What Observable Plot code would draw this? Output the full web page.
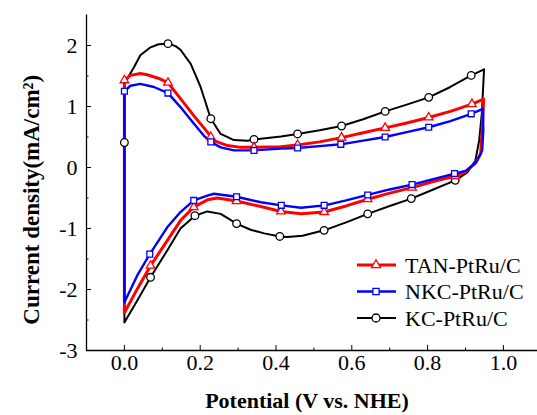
<!DOCTYPE html>
<html>
<head>
<meta charset="utf-8">
<script src="https://cdn.jsdelivr.net/npm/d3@7"></script>
<script src="https://cdn.jsdelivr.net/npm/@observablehq/plot@0.6"></script>
<style>
  html, body { margin: 0; padding: 0; background: #fff; }
  #chart { width: 537px; height: 415px; overflow: hidden; }
</style>
</head>
<body>
<div id="chart"></div>
<script>
// ---- Data (potential V vs NHE, current density mA/cm²), loops traced in scan order ----
const seriesNames = ["TAN-PtRu/C", "NKC-PtRu/C", "KC-PtRu/C"];
const seriesColors = ["#ff0000", "#0000ff", "#000000"];

const kcV = [0,0,0.007,0.025,0.042,0.069,0.09,0.115,0.135,0.148,0.175,0.201,0.228,0.254,0.289,0.325,0.342,0.413,0.457,0.515,0.573,0.63,0.688,0.745,0.803,0.86,0.915,0.949,0.943,0.936,0.926,0.905,0.873,0.815,0.757,0.70,0.642,0.585,0.527,0.47,0.43,0.410,0.369,0.333,0.296,0.254,0.219,0.186,0.148,0.113,0.069,0.034,0];
const kcJ = [-2.54,1.43,1.45,1.64,1.84,1.97,2.02,2.03,1.99,1.93,1.70,1.32,0.80,0.55,0.45,0.44,0.46,0.51,0.55,0.61,0.68,0.79,0.92,1.03,1.15,1.32,1.51,1.61,0.88,0.44,0.11,-0.08,-0.21,-0.36,-0.51,-0.63,-0.76,-0.90,-1.03,-1.12,-1.14,-1.13,-1.08,-1.02,-0.92,-0.76,-0.72,-0.79,-1.00,-1.36,-1.80,-2.18,-2.54];

const tanV = [0,0,0.016,0.042,0.060,0.095,0.115,0.148,0.183,0.219,0.236,0.272,0.307,0.342,0.413,0.457,0.515,0.573,0.63,0.688,0.745,0.803,0.86,0.917,0.948,0.944,0.940,0.924,0.898,0.873,0.815,0.759,0.70,0.642,0.585,0.527,0.466,0.413,0.360,0.296,0.245,0.219,0.183,0.148,0.113,0.069,0.034,0];
const tanJ = [-2.38,1.43,1.51,1.54,1.52,1.45,1.39,1.13,0.85,0.58,0.44,0.36,0.33,0.33,0.34,0.37,0.42,0.49,0.57,0.65,0.73,0.82,0.92,1.04,1.12,0.61,0.22,0.06,-0.08,-0.14,-0.23,-0.33,-0.42,-0.52,-0.63,-0.73,-0.76,-0.72,-0.64,-0.55,-0.50,-0.53,-0.65,-0.87,-1.20,-1.61,-1.99,-2.38];

const nkcV = [0,0,0.016,0.042,0.078,0.115,0.148,0.183,0.210,0.228,0.254,0.289,0.342,0.413,0.457,0.515,0.571,0.63,0.688,0.745,0.803,0.86,0.915,0.946,0.947,0.944,0.929,0.902,0.871,0.815,0.759,0.70,0.642,0.585,0.529,0.466,0.414,0.360,0.296,0.236,0.219,0.183,0.148,0.113,0.067,0.034,0];
const nkcJ = [-2.21,1.25,1.34,1.37,1.32,1.22,0.99,0.72,0.52,0.42,0.33,0.28,0.28,0.31,0.32,0.35,0.38,0.44,0.50,0.58,0.66,0.76,0.88,0.96,0.61,0.28,0.09,-0.05,-0.10,-0.19,-0.28,-0.36,-0.45,-0.54,-0.62,-0.66,-0.62,-0.57,-0.48,-0.43,-0.46,-0.54,-0.73,-0.98,-1.42,-1.77,-2.21];

// Marker points (symbols drawn on the curves)
const kcMarkV = [0,0.115,0.228,0.342,0.457,0.573,0.688,0.803,0.915,0.873,0.757,0.642,0.527,0.410,0.296,0.186,0.069];
const kcMarkJ = [0.41,2.03,0.80,0.46,0.55,0.68,0.92,1.15,1.51,-0.21,-0.51,-0.76,-1.03,-1.13,-0.92,-0.79,-1.80];
const tanMarkV = [0,0.115,0.228,0.342,0.457,0.573,0.688,0.803,0.917,0.873,0.759,0.642,0.527,0.413,0.296,0.183,0.069];
const tanMarkJ = [1.43,1.39,0.50,0.33,0.37,0.49,0.65,0.82,1.04,-0.14,-0.33,-0.52,-0.73,-0.72,-0.55,-0.65,-1.61];
const nkcMarkV = [0,0.115,0.228,0.342,0.457,0.571,0.688,0.803,0.915,0.871,0.759,0.642,0.527,0.414,0.296,0.183,0.067];
const nkcMarkJ = [1.25,1.22,0.42,0.28,0.32,0.38,0.50,0.66,0.88,-0.10,-0.28,-0.45,-0.62,-0.62,-0.48,-0.54,-1.42];

// Axes
const xMajor = [0, 0.2, 0.4, 0.6, 0.8, 1.0];
const xMinor = [0.1, 0.3, 0.5, 0.7, 0.9];
const yMajor = [-3, -2, -1, 0, 1, 2];
const yMinor = [-2.5, -1.5, -0.5, 0.5, 1.5];
const xDomain = [-0.1, 1.09];
const yDomain = [-3, 2.5];
const xTitle = "Potential (V vs. NHE)";
const yTitle = "Current density(mA/cm²)";

const idx = a => d3.range(a.length);
const serif = "'Liberation Serif', 'Times New Roman', serif";

function curve(V, J, color, sw) {
  return Plot.line(idx(V), {x: i => V[i], y: i => J[i], stroke: color, strokeWidth: sw, strokeLinejoin: "round", curve: "linear"});
}
function marks(V, J, color, symbol, r) {
  return Plot.dot(idx(V), {x: i => V[i], y: i => J[i], symbol, r, stroke: color, fill: "white", strokeWidth: 1.3});
}

const plot = Plot.plot({
  width: 537,
  height: 415,
  marginLeft: 86,
  marginRight: 0,
  marginTop: 14.5,
  marginBottom: 65,
  style: {fontFamily: serif, fontSize: "22px", background: "white", color: "black"},
  x: {domain: xDomain},
  y: {domain: yDomain},
  marks: [
    curve(kcV, kcJ, seriesColors[2], 2),
    curve(tanV, tanJ, seriesColors[0], 3),
    curve(nkcV, nkcJ, seriesColors[1], 2.4),
    marks(kcMarkV, kcMarkJ, seriesColors[2], "circle", 3.8),
    marks(tanMarkV, tanMarkJ, seriesColors[0], "triangle", 3.2),
    marks(nkcMarkV, nkcMarkJ, seriesColors[1], "square", 3.3),
    Plot.ruleX([xDomain[0]], {stroke: "black", strokeWidth: 1.3}),
    Plot.ruleY([yDomain[0]], {stroke: "black", strokeWidth: 1.3}),
    Plot.axisX(xMajor, {tickSize: -5, tickFormat: () => "", label: null}),
    Plot.axisX(xMinor, {tickSize: -2.5, tickFormat: () => "", label: null}),
    Plot.axisX(xMajor, {tickSize: 0, tickPadding: 4, tickFormat: d => d.toFixed(1), label: null}),
    Plot.axisY(yMajor, {tickSize: -5, tickFormat: () => "", label: null}),
    Plot.axisY(yMinor, {tickSize: -2.5, tickFormat: () => "", label: null}),
    Plot.axisY(yMajor, {tickSize: 0, tickPadding: 9, tickFormat: d => String(d), label: null}),
    Plot.text([xTitle], {frameAnchor: "bottom", dy: 57, dx: -5, textAnchor: "middle", fontWeight: "bold", fontSize: 22}),
    Plot.text([yTitle], {frameAnchor: "left", dx: -55, dy: 17, rotate: -90, textAnchor: "middle", fontWeight: "bold", fontSize: 23})
  ]
});

document.getElementById("chart").appendChild(plot);

// Legend inside the plot area (bottom-right)
const svg = d3.select(plot);
const lg = svg.append("g").attr("font-family", serif).attr("font-size", 22).attr("text-anchor", "start");
const legendSymbols = ["triangle", "square", "circle"];
const symMap = {triangle: d3.symbolTriangle, square: d3.symbolSquare, circle: d3.symbolCircle};
const legendSizes = [3.4, 3.5, 4];
seriesNames.forEach((name, k) => {
  const y = 265 + k * 26.5;
  lg.append("line").attr("x1", 357).attr("x2", 396).attr("y1", y).attr("y2", y)
    .attr("stroke", seriesColors[k]).attr("stroke-width", k === 0 ? 3 : (k === 1 ? 2.4 : 2));
  lg.append("path").attr("transform", `translate(376,${y})`)
    .attr("d", d3.symbol(symMap[legendSymbols[k]], Math.PI * legendSizes[k] ** 2)())
    .attr("fill", "white").attr("stroke", seriesColors[k]).attr("stroke-width", 1.3);
  lg.append("text").attr("x", 405).attr("y", y).attr("dy", "0.35em").attr("text-anchor", "start").text(name);
});
</script>
</body>
</html>
